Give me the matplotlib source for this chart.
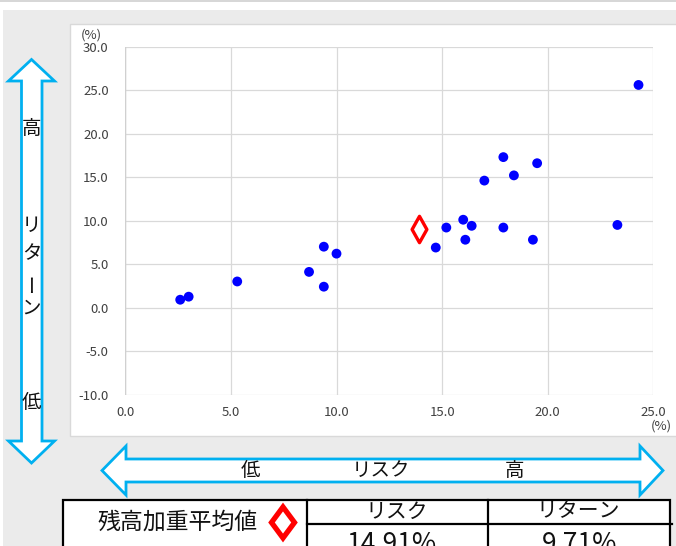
import numpy as np
import matplotlib
matplotlib.use("Agg")
import matplotlib.pyplot as plt
from matplotlib.patches import Rectangle, Polygon
from matplotlib.path import Path

plt.rcParams["font.family"] = ["Noto Sans CJK JP", "DejaVu Sans"]

# fund risk / return points (%)
risk = [2.6, 3.0, 5.3, 8.7, 9.4, 10.0, 9.4,
        24.3, 17.9, 19.5, 18.4, 17.0, 16.0, 15.2, 16.4, 17.9, 23.3, 16.1, 19.3, 14.7]
ret = [0.9, 1.25, 3.0, 4.1, 7.0, 6.2, 2.4,
       25.6, 17.3, 16.6, 15.2, 14.6, 10.1, 9.2, 9.4, 9.2, 9.5, 7.8, 7.8, 6.9]
avg_risk_pt, avg_ret_pt = 13.9, 9.05        # plotted weighted average
avg_risk_txt, avg_ret_txt = "14.91%", "9.71%"
xticks = [0, 5, 10, 15, 20, 25]
yticks = [-10, -5, 0, 5, 10, 15, 20, 25, 30]

W, H = 676, 546
fig = plt.figure(figsize=(W / 100, H / 100), dpi=100)

# --- background layer in pixel coordinates ---
bg = fig.add_axes([0, 0, 1, 1], zorder=0)
bg.set_xlim(0, W); bg.set_ylim(H, 0); bg.axis("off")
bg.add_patch(Rectangle((3, 10), W, H, fc="#ebebeb", ec="none"))
bg.plot([0, W], [0.8, 0.8], color="#d0d0d0", lw=1.2)
bg.add_patch(Rectangle((70, 24), 620, 412, fc="white", ec="#d9d9d9", lw=1))

blue = "#00b0f0"
varrow = [(31.5, 59.5), (54.5, 81), (42, 81), (42, 441), (54.5, 441), (31.5, 463),
          (8.5, 441), (21.5, 441), (21.5, 81), (8.5, 81)]
harrow = [(102, 470.5), (126, 446), (126, 459), (640, 459), (640, 446), (663, 470.5),
          (640, 495), (640, 482), (126, 482), (126, 495)]
for pts in (varrow, harrow):
    bg.add_patch(Polygon(pts, closed=True, fc="white", ec=blue, lw=2))

kw = dict(ha="center", va="center", fontsize=14, color="#111111")
bg.text(31.5, 128, "高", **kw)
for ch, yy in zip("リタン", (225, 254, 308)):
    bg.text(31.5, yy, ch, **kw)
bg.text(31.5, 282, "ー", rotation=90, **kw)
bg.text(31.5, 402, "低", **kw)
bg.text(250, 470, "低", **kw)
bg.text(381, 470, "リスク", **kw)
bg.text(515, 470, "高", **kw)

# axis unit labels
bg.text(91.5, 35, "(%)", ha="center", va="center", fontsize=9.5, color="#404040")
bg.text(661, 426, "(%)", ha="center", va="center", fontsize=9.5, color="#404040")

# --- summary table ---
bg.add_patch(Rectangle((62.5, 500), 607.5, 60, fc="white", ec="black", lw=1.6))
bg.plot([306.5, 306.5], [500, H], color="black", lw=1.6)
bg.plot([488, 488], [500, H], color="black", lw=1.6)
bg.plot([306.5, 672], [523.5, 523.5], color="black", lw=1.6)
bg.text(178, 522, "残高加重平均値", ha="center", va="center", fontsize=16.5, color="#111111")
bg.add_patch(Polygon([(283, 507), (294.5, 522.5), (283, 538), (271.5, 522.5)],
                     closed=True, fc="white", ec="red", lw=3.8))
bg.text(397, 511.5, "リスク", ha="center", va="center", fontsize=15, color="#111111")
bg.text(578, 511.5, "リターン", ha="center", va="center", fontsize=15, color="#111111")
bg.text(392, 552, avg_risk_txt, ha="center", va="baseline", fontsize=19, color="#111111")
bg.text(580, 552, avg_ret_txt, ha="center", va="baseline", fontsize=19, color="#111111")

# --- scatter plot ---
x0, x1, y0, y1 = 125.3, 653.3, 46.7, 394.5
ax = fig.add_axes([x0 / W, (H - y1) / H, (x1 - x0) / W, (y1 - y0) / H], zorder=1)
ax.set_facecolor("white")
ax.set_xlim(0, 25); ax.set_ylim(-10, 30)
ax.set_xticks(xticks); ax.set_yticks(yticks)
ax.set_xticklabels([f"{v:.1f}" for v in xticks])
ax.set_yticklabels([f"{v:.1f}" for v in yticks])
ax.tick_params(length=0, labelsize=9.5, labelcolor="#404040")
ax.tick_params(axis="y", pad=12)
ax.tick_params(axis="x", pad=8)
ax.grid(True, color="#d9d9d9", lw=0.9)
ax.set_axisbelow(True)
for s in ax.spines.values():
    s.set_visible(False)
ax.plot([0, 0], [-10, 30], color="#d0d0d0", lw=1, zorder=1)

ax.scatter(risk, ret, s=50, color="#0000ff", edgecolors="none", zorder=3)
diamond = Path([(0, 1), (0.56, 0), (0, -1), (-0.56, 0), (0, 1)],
               [Path.MOVETO, Path.LINETO, Path.LINETO, Path.LINETO, Path.CLOSEPOLY])
ax.plot([avg_risk_pt], [avg_ret_pt], marker=diamond, ms=19, mfc="white", mec="red",
        mew=2.4, ls="none", zorder=4)

fig.savefig("out.png", dpi=100)
